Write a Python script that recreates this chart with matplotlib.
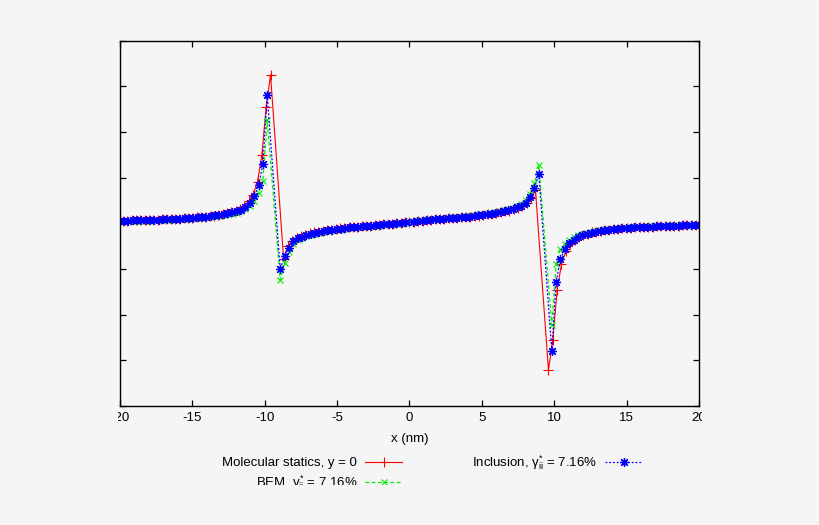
import numpy as np
import matplotlib
matplotlib.use("Agg")
import matplotlib.pyplot as plt
from matplotlib.patches import Rectangle

plt.rcParams["font.family"] = ["Liberation Sans", "DejaVu Sans"]
plt.rcParams["mathtext.fontset"] = "custom"
plt.rcParams["mathtext.rm"] = "Liberation Sans"
plt.rcParams["mathtext.it"] = "Liberation Sans"
plt.rcParams["axes.unicode_minus"] = False

# sample positions (nm): continuum runs skip the core points next to |x| ~ 9.5
grid = np.round(0.23 + 0.3 * np.arange(67), 2)
cont_in = grid[:30]      # 0.23 .. 8.93
cont_out = grid[32:]     # 9.83 .. 20.03
cont_x = np.concatenate([-cont_out[::-1], -cont_in[::-1], cont_in, cont_out])

md_in = np.round(0.3 * np.arange(1, 30), 2)        # 0.3 .. 8.7
md_out = np.round(9.6 + 0.3 * np.arange(36), 2)    # 9.6 .. 20.1
md_x = np.concatenate([-md_out[::-1], -md_in[::-1], [0.0], md_in, md_out])

# molecular statics, y = 0 (left to right)
md_y = [
    0.058, 0.06, 0.062, 0.064, 0.066, 0.069, 0.072, 0.075, 0.078, 0.081, 0.085, 0.089,
    0.093, 0.098, 0.103, 0.109, 0.115, 0.122, 0.13, 0.138, 0.148, 0.158, 0.17, 0.185,
    0.2, 0.22, 0.245, 0.28, 0.325, 0.39, 0.48, 0.63, 0.91, 1.50, 2.55, 3.25,
    -0.77, -0.50, -0.38, -0.32, -0.28, -0.25, -0.22, -0.20, -0.18, -0.165, -0.15, -0.135,
    -0.125, -0.11, -0.10, -0.09, -0.083, -0.075, -0.065, -0.058, -0.05, -0.04, -0.035,
    -0.025, -0.015, -0.01, 0.0, 0.01, 0.02,
    0.03,
    0.04, 0.05, 0.06, 0.07, 0.075, 0.085, 0.095, 0.10, 0.11, 0.118, 0.125, 0.135, 0.143,
    0.15, 0.16, 0.17, 0.185, 0.195, 0.21, 0.225, 0.24, 0.26, 0.28, 0.31, 0.34, 0.38,
    0.44, 0.56, 0.74,
    -3.21, -2.56, -1.46, -0.89, -0.61, -0.46, -0.37, -0.305, -0.26, -0.225, -0.20, -0.18,
    -0.165, -0.15, -0.138, -0.128, -0.118, -0.11, -0.102, -0.095, -0.089, -0.083, -0.078,
    -0.073, -0.069, -0.065, -0.061, -0.058, -0.055, -0.052, -0.049, -0.046, -0.044,
    -0.042, -0.04, -0.038,
]

# BEM
bem_y = [
    0.045, 0.047, 0.049, 0.051, 0.053, 0.056, 0.059, 0.062, 0.065, 0.069, 0.073, 0.077,
    0.082, 0.087, 0.092, 0.097, 0.105, 0.11, 0.115, 0.125, 0.13, 0.14, 0.155, 0.165,
    0.18, 0.195, 0.215, 0.235, 0.265, 0.31, 0.38, 0.50, 0.66, 0.92, 2.26,
    -1.24, -0.86, -0.62, -0.46, -0.37, -0.32, -0.285, -0.255, -0.23, -0.205, -0.185,
    -0.17, -0.155, -0.14, -0.125, -0.115, -0.10, -0.09, -0.085, -0.075, -0.065, -0.06,
    -0.05, -0.045, -0.035, -0.025, -0.015, -0.01, 0.0, 0.01,
    0.045, 0.055, 0.065, 0.075, 0.085, 0.095, 0.105, 0.11, 0.12, 0.13, 0.14, 0.145,
    0.155, 0.165, 0.175, 0.19, 0.20, 0.215, 0.23, 0.25, 0.27, 0.29, 0.31, 0.345, 0.38,
    0.43, 0.51, 0.65, 0.88, 1.28,
    -2.23, -0.89, -0.57, -0.45, -0.36, -0.30, -0.26, -0.23, -0.205, -0.185, -0.165,
    -0.15, -0.14, -0.13, -0.12, -0.11, -0.10, -0.095, -0.09, -0.08, -0.075, -0.07,
    -0.065, -0.06, -0.056, -0.052, -0.048, -0.045, -0.042, -0.039, -0.036, -0.034,
    -0.032, -0.03, -0.028,
]

# Inclusion
incl_y = [
    0.058, 0.06, 0.062, 0.064, 0.066, 0.069, 0.072, 0.075, 0.078, 0.082, 0.086, 0.09,
    0.095, 0.10, 0.105, 0.11, 0.12, 0.125, 0.13, 0.14, 0.15, 0.16, 0.175, 0.19, 0.205,
    0.22, 0.24, 0.265, 0.30, 0.36, 0.45, 0.59, 0.83, 1.29, 2.81,
    -1.01, -0.71, -0.53, -0.39, -0.33, -0.29, -0.26, -0.23, -0.21, -0.19, -0.17, -0.155,
    -0.14, -0.125, -0.115, -0.10, -0.09, -0.08, -0.07, -0.065, -0.055, -0.05, -0.04,
    -0.035, -0.025, -0.015, -0.005, 0.0, 0.01, 0.02,
    0.04, 0.05, 0.06, 0.065, 0.075, 0.085, 0.095, 0.10, 0.11, 0.115, 0.125, 0.13, 0.14,
    0.15, 0.16, 0.175, 0.185, 0.20, 0.215, 0.23, 0.25, 0.27, 0.29, 0.32, 0.35, 0.39,
    0.45, 0.58, 0.77, 1.09,
    -2.79, -1.28, -0.79, -0.56, -0.44, -0.36, -0.30, -0.26, -0.23, -0.205, -0.185, -0.17,
    -0.155, -0.14, -0.13, -0.12, -0.11, -0.105, -0.10, -0.09, -0.085, -0.08, -0.075,
    -0.07, -0.066, -0.062, -0.058, -0.055, -0.052, -0.049, -0.046, -0.044, -0.042,
    -0.04, -0.038,
]

labels = [
    "Molecular statics, y = 0",
    "BEM, $\\gamma^{*}_{ii}$ = 7.16%",
    "Inclusion, $\\gamma^{*}_{ii}$ = 7.16%",
]
x_ticks = [-20, -15, -10, -5, 0, 5, 10, 15, 20]
y_ticks = [-4, -3, -2, -1, 0, 1, 2, 3, 4]

bg = "#f5f5f5"
fs = 9.5
W, H = 820, 525
fig = plt.figure(figsize=(8.2, 5.25), dpi=100, facecolor=bg)
ax = fig.add_axes([120 / W, 1 - 406 / H, 579 / W, 365.3 / H], facecolor=bg)

star = (8, 2, 0)
l_md, = ax.plot(md_x, md_y, color="#ff0000", lw=0.8, marker="+", ms=6.5, mew=0.8)
l_bem, = ax.plot(cont_x, bem_y, color="#00ee00", lw=0.9, marker="x", ms=5, mew=0.8)
l_bem.set_dashes([3, 2])
l_incl, = ax.plot(cont_x, incl_y, color="#0000ff", lw=0.9, marker=star, ms=6.5, mew=0.9)
l_incl.set_dashes([1.5, 1.5])

ax.set_xlim(-20, 20)
ax.set_ylim(-4, 4)
ax.set_xticks(x_ticks)
ax.set_yticks(y_ticks)
ax.set_yticklabels([])
ax.tick_params(direction="in", length=4.5, width=0.9, top=True, right=True,
               labelsize=fs, pad=4.5, colors="black")
for s in ax.spines.values():
    s.set_linewidth(1.0)
ax.set_xlabel("x (nm)", fontsize=fs)
ax.xaxis.set_label_coords(0.5, (406 - 439) / 365.3)
ax.xaxis.label.set_va("center")

# gnuplot-style key: text right-justified, sample after it
key_kw = dict(frameon=False, markerfirst=False, borderpad=0, borderaxespad=0,
              handlelength=2.8, handletextpad=0.6, fontsize=fs, loc="center right")
fig.legend([l_md], [labels[0]], bbox_to_anchor=(402 / W, 1 - 463 / H), **key_kw)
fig.legend([l_bem], [labels[1]], bbox_to_anchor=(402 / W, 1 - 482.5 / H), **key_kw)
fig.legend([l_incl], [labels[2]], bbox_to_anchor=(642 / W, 1 - 463 / H), **key_kw)

# the source picture is cropped: hide what lies beyond its edges
for x0, y0, w, h in [(0, 0, 118, H), (702, 0, W - 702, H), (0, 485, W, H - 485)]:
    fig.patches.append(Rectangle((x0 / W, 1 - (y0 + h) / H), w / W, h / H,
                                 transform=fig.transFigure, facecolor=bg,
                                 edgecolor="none", zorder=10))

fig.savefig("out.png", dpi=100, facecolor=bg)
